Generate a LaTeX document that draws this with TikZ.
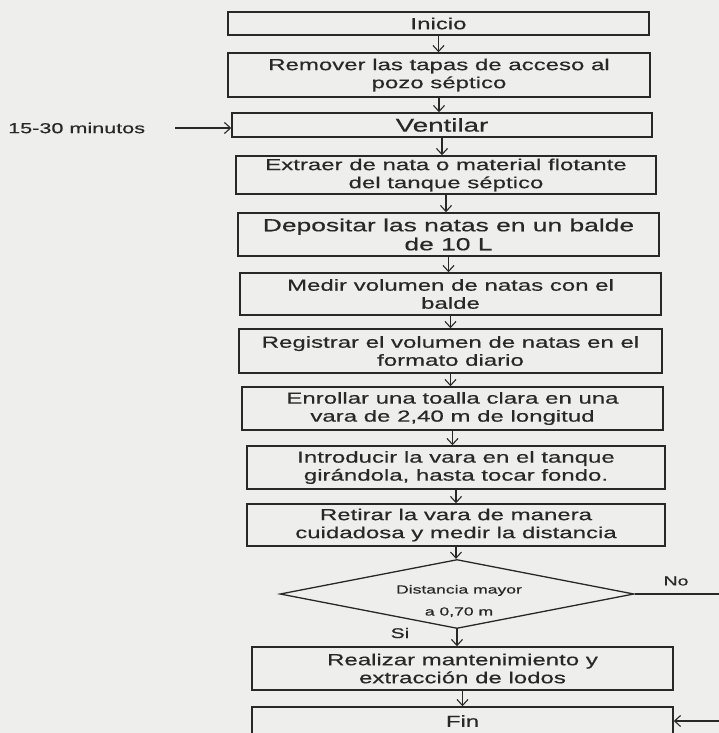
\documentclass[tikz,border=0pt]{standalone}
\usepackage{fontspec}
\setmainfont{Liberation Sans}[FakeStretch=1.5,FakeBold=0.5]
\usetikzlibrary{arrows.meta,shapes.geometric}
\definecolor{paper}{RGB}{238,238,237}
\definecolor{ink}{RGB}{40,40,40}
\begin{document}
\begin{tikzpicture}[x=1pt,y=-1pt,
 stepbox/.style={draw=ink, line width=1.5pt, inner sep=0pt, align=center, text=ink, font=\fontsize{16}{18}\selectfont},
 conn/.style={draw=ink, line width=1.1pt, -{Straight Barb[length=6pt,width=11pt]}},
 lbl/.style={text=ink, inner sep=0pt}]
\fill[paper] (0,0) rectangle (719,733);
\useasboundingbox (0,0) rectangle (719,733);
\node[stepbox, minimum width=421pt, minimum height=23pt] (ini) at (438.5,23.5) {Inicio};
\node[stepbox, minimum width=422pt, minimum height=44pt] (rem) at (439,75) {Remover las tapas de acceso al\\pozo séptico};
\node[stepbox, minimum width=420pt, minimum height=24pt, font=\fontsize{18.5}{20}\selectfont] (ven) at (442,125) {Ventilar};
\node[stepbox, minimum width=420pt, minimum height=38pt] (ext) at (446,175) {Extraer de nata o material flotante\\del tanque séptico};
\node[stepbox, minimum width=421pt, minimum height=43pt, font=\fontsize{17.6}{19}\selectfont] (dep) at (448.5,234.5) {Depositar las natas en un balde\\de 10 L};
\node[stepbox, minimum width=421pt, minimum height=42pt] (med) at (450.5,294) {Medir volumen de natas con el\\balde};
\node[stepbox, minimum width=423pt, minimum height=44pt] (reg) at (450.5,351) {Registrar el volumen de natas en el\\formato diario};
\node[stepbox, minimum width=421pt, minimum height=43pt] (enr) at (452.5,408.5) {Enrollar una toalla clara en una\\vara de 2,40 m de longitud};
\node[stepbox, minimum width=418pt, minimum height=43pt] (int) at (456,467.5) {Introducir la vara en el tanque\\girándola, hasta tocar fondo.};
\node[stepbox, minimum width=418pt, minimum height=42pt] (ret) at (456,525) {Retirar la vara de manera\\cuidadosa y medir la distancia};
\node[draw=ink, line width=1.3pt, shape=diamond, aspect=5.13, minimum width=354pt, minimum height=69pt, inner sep=0pt] (dec) at (457,594) {};
\node[lbl, align=center, font=\fontsize{11.7}{22}\selectfont] (dect) at (459,601) {Distancia mayor\\a 0,70 m};
\node[stepbox, minimum width=421pt, minimum height=43pt] (rea) at (462.5,668.5) {Realizar mantenimiento y\\extracción de lodos};
\node[stepbox, minimum width=421pt, minimum height=28pt] (fin) at (462.5,721) {Fin};
\node[lbl, anchor=west, font=\fontsize{14.4}{16}\selectfont] (min) at (8,128) {15-30 minutos};
\node[lbl, font=\fontsize{14}{16}\selectfont] (si) at (400,633) {Si};
\node[lbl, font=\fontsize{13}{16}\selectfont] (no) at (676,581) {No};
\coordinate (minA) at (175,128);
\coordinate (noA) at (730,594);
\coordinate (noB) at (730,721);
\draw[conn] (minA) -- (minA -| ven.west);
\draw[conn] (ini.south) -- (ini.south |- rem.north);
\draw[conn] (rem.south) -- (rem.south |- ven.north);
\draw[conn] (ven.south) -- (ven.south |- ext.north);
\draw[conn] (ext.south) -- (ext.south |- dep.north);
\draw[conn] (dep.south) -- (dep.south |- med.north);
\draw[conn] (med.south) -- (med.south |- reg.north);
\draw[conn] (reg.south) -- (reg.south |- enr.north);
\draw[conn] (enr.south) -- (enr.south |- int.north);
\draw[conn] (int.south) -- (int.south |- ret.north);
\draw[conn] (ret.south) -- (ret.south |- dec.north);
\draw[conn] (dec.south) -- (dec.south |- rea.north);
\draw[conn] (rea.south) -- (rea.south |- fin.north);
\draw[conn] (dec.east) -- (noA) -- (noB) -- (fin.east);
\end{tikzpicture}
\end{document}
